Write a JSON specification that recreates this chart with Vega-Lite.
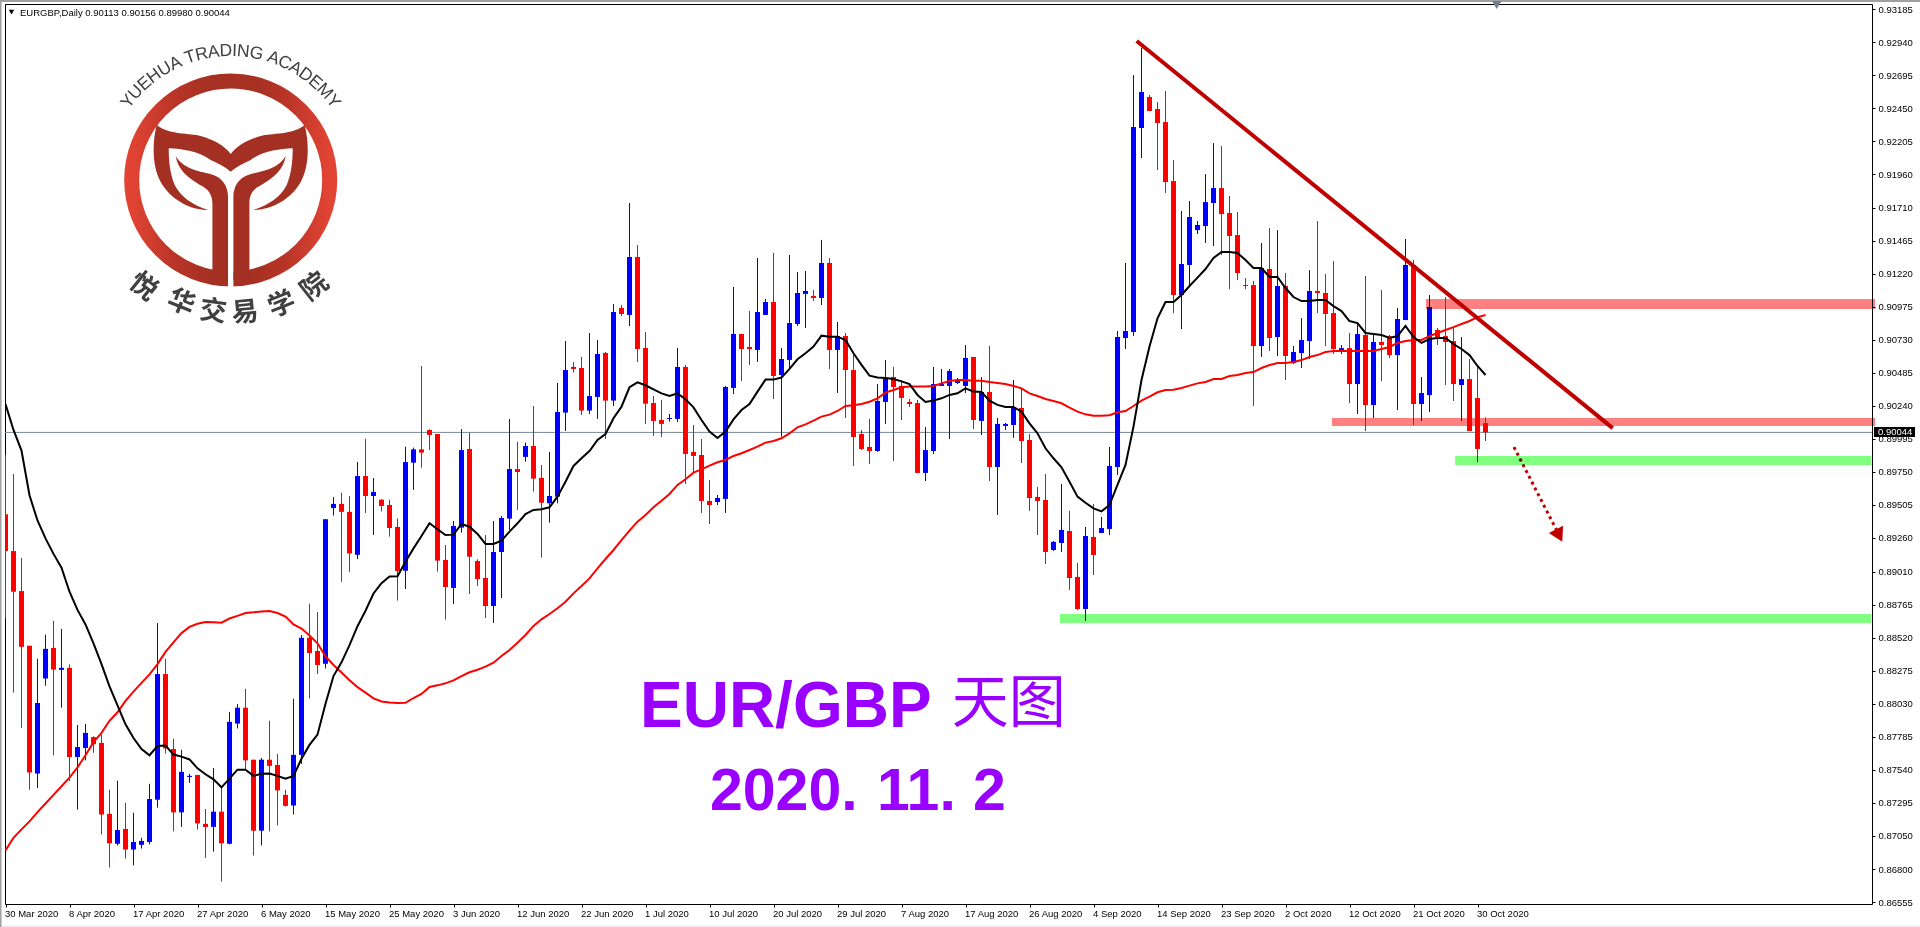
{
"$schema":"https://vega.github.io/schema/vega-lite/v6.json",
"width":1867,"height":900,
"autosize":{"type":"none"},
"padding":{"left":5,"top":4,"right":48,"bottom":23},
"background":"#ffffff",
"view":{"stroke":"#000000","strokeWidth":1,"fill":"#ffffff"},
"config":{"axis":{"grid":false,"title":null,"labelFont":"Liberation Sans","labelFontSize":9.5,"labelColor":"#000000","tickColor":"#000000","domain":false,"labelOverlap":false,"labelBound":false,"labelFlush":false}},
"data":{"values":[
{"i":0,"o":0.89436,"h":0.89876,"l":0.88664,"c":0.89163,"m1":0.90254,"m2":0.86941},
{"i":1,"o":0.89163,"h":0.89735,"l":0.88112,"c":0.88861,"m1":0.90062,"m2":0.87034},
{"i":2,"o":0.88866,"h":0.89112,"l":0.87851,"c":0.88452,"m1":0.89909,"m2":0.87097},
{"i":3,"o":0.8846,"h":0.8846,"l":0.87391,"c":0.87519,"m1":0.89577,"m2":0.87156},
{"i":4,"o":0.87511,"h":0.88363,"l":0.87404,"c":0.88035,"m1":0.8939,"m2":0.87225},
{"i":5,"o":0.88217,"h":0.88542,"l":0.88163,"c":0.88437,"m1":0.89257,"m2":0.87289},
{"i":6,"o":0.88444,"h":0.88644,"l":0.87647,"c":0.88283,"m1":0.89142,"m2":0.87353},
{"i":7,"o":0.88281,"h":0.88585,"l":0.88,"c":0.88296,"m1":0.8904,"m2":0.87417},
{"i":8,"o":0.88296,"h":0.88322,"l":0.87455,"c":0.87634,"m1":0.88861,"m2":0.87481},
{"i":9,"o":0.87634,"h":0.87872,"l":0.87243,"c":0.87708,"m1":0.88726,"m2":0.87557},
{"i":10,"o":0.87701,"h":0.8788,"l":0.87609,"c":0.87813,"m1":0.88618,"m2":0.87647},
{"i":11,"o":0.87782,"h":0.87788,"l":0.87665,"c":0.87729,"m1":0.88478,"m2":0.87744},
{"i":12,"o":0.87739,"h":0.878,"l":0.87059,"c":0.87207,"m1":0.88324,"m2":0.87813},
{"i":13,"o":0.87212,"h":0.87391,"l":0.86814,"c":0.86993,"m1":0.88158,"m2":0.87903},
{"i":14,"o":0.8699,"h":0.87458,"l":0.86977,"c":0.87092,"m1":0.88018,"m2":0.87966},
{"i":15,"o":0.871,"h":0.87294,"l":0.8688,"c":0.86947,"m1":0.87877,"m2":0.88051},
{"i":16,"o":0.86947,"h":0.8722,"l":0.86829,"c":0.87003,"m1":0.87775,"m2":0.8812},
{"i":17,"o":0.86982,"h":0.87034,"l":0.86954,"c":0.87011,"m1":0.87693,"m2":0.88184},
{"i":18,"o":0.87003,"h":0.87435,"l":0.86985,"c":0.87322,"m1":0.87647,"m2":0.88248},
{"i":19,"o":0.87317,"h":0.88628,"l":0.87258,"c":0.8825,"m1":0.87716,"m2":0.88324},
{"i":20,"o":0.8825,"h":0.88363,"l":0.8766,"c":0.87698,"m1":0.87719,"m2":0.88414},
{"i":21,"o":0.87693,"h":0.8777,"l":0.87082,"c":0.87223,"m1":0.87652,"m2":0.88485},
{"i":22,"o":0.87223,"h":0.87688,"l":0.87115,"c":0.87524,"m1":0.87637,"m2":0.88554},
{"i":23,"o":0.87486,"h":0.87509,"l":0.87442,"c":0.87494,"m1":0.87616,"m2":0.886},
{"i":24,"o":0.87501,"h":0.87501,"l":0.87095,"c":0.87141,"m1":0.8755,"m2":0.88623},
{"i":25,"o":0.87138,"h":0.87248,"l":0.86885,"c":0.87115,"m1":0.87506,"m2":0.88636},
{"i":26,"o":0.87115,"h":0.87552,"l":0.86931,"c":0.87228,"m1":0.87468,"m2":0.88634},
{"i":27,"o":0.87228,"h":0.87412,"l":0.86709,"c":0.86993,"m1":0.87409,"m2":0.88631},
{"i":28,"o":0.8699,"h":0.87969,"l":0.86985,"c":0.87895,"m1":0.87473,"m2":0.88662},
{"i":29,"o":0.87882,"h":0.88028,"l":0.87846,"c":0.88,"m1":0.8754,"m2":0.88682},
{"i":30,"o":0.88,"h":0.8814,"l":0.87545,"c":0.87609,"m1":0.8754,"m2":0.88703},
{"i":31,"o":0.87614,"h":0.87614,"l":0.86903,"c":0.87087,"m1":0.87494,"m2":0.88708},
{"i":32,"o":0.87087,"h":0.87627,"l":0.86977,"c":0.87614,"m1":0.87509,"m2":0.88715},
{"i":33,"o":0.87614,"h":0.87903,"l":0.87082,"c":0.87568,"m1":0.87512,"m2":0.88718},
{"i":34,"o":0.87575,"h":0.87657,"l":0.87126,"c":0.87386,"m1":0.87494,"m2":0.88703},
{"i":35,"o":0.87353,"h":0.87391,"l":0.87266,"c":0.87271,"m1":0.87473,"m2":0.88677},
{"i":36,"o":0.87274,"h":0.88066,"l":0.87207,"c":0.8765,"m1":0.87494,"m2":0.88618},
{"i":37,"o":0.8765,"h":0.88539,"l":0.87583,"c":0.88519,"m1":0.87621,"m2":0.88588},
{"i":38,"o":0.88519,"h":0.88772,"l":0.88069,"c":0.88406,"m1":0.87724,"m2":0.88536},
{"i":39,"o":0.88421,"h":0.8871,"l":0.8825,"c":0.88317,"m1":0.878,"m2":0.88478},
{"i":40,"o":0.88327,"h":0.894,"l":0.88291,"c":0.894,"m1":0.8803,"m2":0.88381},
{"i":41,"o":0.89482,"h":0.89564,"l":0.89426,"c":0.89513,"m1":0.88235,"m2":0.88317},
{"i":42,"o":0.89513,"h":0.89595,"l":0.88935,"c":0.89454,"m1":0.88337,"m2":0.88261},
{"i":43,"o":0.89454,"h":0.89572,"l":0.89009,"c":0.89145,"m1":0.88465,"m2":0.88204},
{"i":44,"o":0.89135,"h":0.89825,"l":0.89104,"c":0.8972,"m1":0.88605,"m2":0.88153},
{"i":45,"o":0.8972,"h":0.89996,"l":0.89446,"c":0.89572,"m1":0.8872,"m2":0.88112},
{"i":46,"o":0.89572,"h":0.89705,"l":0.89283,"c":0.89602,"m1":0.88848,"m2":0.88069},
{"i":47,"o":0.89544,"h":0.89549,"l":0.89457,"c":0.89498,"m1":0.88925,"m2":0.88046},
{"i":48,"o":0.89505,"h":0.89544,"l":0.8927,"c":0.89334,"m1":0.88974,"m2":0.88038},
{"i":49,"o":0.89342,"h":0.89405,"l":0.88795,"c":0.89014,"m1":0.88976,"m2":0.88035},
{"i":50,"o":0.89017,"h":0.89938,"l":0.88881,"c":0.89824,"m1":0.89084,"m2":0.88036},
{"i":51,"o":0.89819,"h":0.89931,"l":0.89617,"c":0.89918,"m1":0.89183,"m2":0.88072},
{"i":52,"o":0.89918,"h":0.90537,"l":0.89782,"c":0.89894,"m1":0.89275,"m2":0.88102},
{"i":53,"o":0.90062,"h":0.90067,"l":0.89913,"c":0.90025,"m1":0.89369,"m2":0.88154},
{"i":54,"o":0.90032,"h":0.90032,"l":0.8901,"c":0.89092,"m1":0.89325,"m2":0.88166},
{"i":55,"o":0.89097,"h":0.89208,"l":0.88654,"c":0.88896,"m1":0.89282,"m2":0.88181},
{"i":56,"o":0.88889,"h":0.89386,"l":0.8877,"c":0.89349,"m1":0.89285,"m2":0.88203},
{"i":57,"o":0.89337,"h":0.90069,"l":0.893,"c":0.89913,"m1":0.89364,"m2":0.88235},
{"i":58,"o":0.89921,"h":0.90042,"l":0.88844,"c":0.89121,"m1":0.89344,"m2":0.88263},
{"i":59,"o":0.89089,"h":0.89102,"l":0.88904,"c":0.88955,"m1":0.8929,"m2":0.88282},
{"i":60,"o":0.88963,"h":0.89282,"l":0.88666,"c":0.88755,"m1":0.89216,"m2":0.88305},
{"i":61,"o":0.88755,"h":0.89386,"l":0.88629,"c":0.89156,"m1":0.89216,"m2":0.88334},
{"i":62,"o":0.89156,"h":0.89423,"l":0.88814,"c":0.89408,"m1":0.8924,"m2":0.88384},
{"i":63,"o":0.89404,"h":0.90144,"l":0.8932,"c":0.89772,"m1":0.89307,"m2":0.88428},
{"i":64,"o":0.89772,"h":0.89975,"l":0.89468,"c":0.8975,"m1":0.89369,"m2":0.88483},
{"i":65,"o":0.89862,"h":0.89968,"l":0.89827,"c":0.89943,"m1":0.89438,"m2":0.8854},
{"i":66,"o":0.89943,"h":0.9024,"l":0.89604,"c":0.89701,"m1":0.89468,"m2":0.88607},
{"i":67,"o":0.89706,"h":0.89802,"l":0.89114,"c":0.89522,"m1":0.89473,"m2":0.88656},
{"i":68,"o":0.89518,"h":0.89899,"l":0.89374,"c":0.89572,"m1":0.89488,"m2":0.88696},
{"i":69,"o":0.89567,"h":0.90411,"l":0.89518,"c":0.90196,"m1":0.89567,"m2":0.88738},
{"i":70,"o":0.90191,"h":0.90723,"l":0.90055,"c":0.90507,"m1":0.89678,"m2":0.88787},
{"i":71,"o":0.9053,"h":0.90567,"l":0.90488,"c":0.90515,"m1":0.89795,"m2":0.88849},
{"i":72,"o":0.90522,"h":0.90604,"l":0.90173,"c":0.90206,"m1":0.89852,"m2":0.88904},
{"i":73,"o":0.90206,"h":0.90782,"l":0.90181,"c":0.90314,"m1":0.89906,"m2":0.8896},
{"i":74,"o":0.90307,"h":0.9073,"l":0.90144,"c":0.90626,"m1":0.89988,"m2":0.89035},
{"i":75,"o":0.90634,"h":0.90641,"l":0.89995,"c":0.9028,"m1":0.90032,"m2":0.89104},
{"i":76,"o":0.9028,"h":0.90997,"l":0.9024,"c":0.90938,"m1":0.90149,"m2":0.89171},
{"i":77,"o":0.90968,"h":0.9099,"l":0.90908,"c":0.90923,"m1":0.90235,"m2":0.89245},
{"i":78,"o":0.90916,"h":0.91747,"l":0.90834,"c":0.91346,"m1":0.90379,"m2":0.89314},
{"i":79,"o":0.91346,"h":0.91435,"l":0.90567,"c":0.90663,"m1":0.90416,"m2":0.89381},
{"i":80,"o":0.90671,"h":0.9079,"l":0.90107,"c":0.90257,"m1":0.90394,"m2":0.89431},
{"i":81,"o":0.90262,"h":0.90314,"l":0.90017,"c":0.90129,"m1":0.90364,"m2":0.89488},
{"i":82,"o":0.90136,"h":0.90285,"l":0.9001,"c":0.90107,"m1":0.90334,"m2":0.89537},
{"i":83,"o":0.90144,"h":0.90181,"l":0.90124,"c":0.90151,"m1":0.90314,"m2":0.89587},
{"i":84,"o":0.90144,"h":0.90671,"l":0.90121,"c":0.9053,"m1":0.90334,"m2":0.89654},
{"i":85,"o":0.9053,"h":0.90545,"l":0.89661,"c":0.89884,"m1":0.9029,"m2":0.89696},
{"i":86,"o":0.89899,"h":0.90099,"l":0.89745,"c":0.89869,"m1":0.9023,"m2":0.89745},
{"i":87,"o":0.89876,"h":0.89995,"l":0.89446,"c":0.89535,"m1":0.90136,"m2":0.8977},
{"i":88,"o":0.89535,"h":0.89691,"l":0.89364,"c":0.89505,"m1":0.9005,"m2":0.89797},
{"i":89,"o":0.89527,"h":0.89579,"l":0.89505,"c":0.89557,"m1":0.90003,"m2":0.89822},
{"i":90,"o":0.8955,"h":0.90389,"l":0.89446,"c":0.90381,"m1":0.9005,"m2":0.89839},
{"i":91,"o":0.90374,"h":0.91124,"l":0.90329,"c":0.90775,"m1":0.90141,"m2":0.89869},
{"i":92,"o":0.90775,"h":0.90775,"l":0.90426,"c":0.90663,"m1":0.9021,"m2":0.89889},
{"i":93,"o":0.90678,"h":0.90945,"l":0.90545,"c":0.90663,"m1":0.90255,"m2":0.89913},
{"i":94,"o":0.90656,"h":0.91339,"l":0.90567,"c":0.90938,"m1":0.90347,"m2":0.89938},
{"i":95,"o":0.90916,"h":0.91035,"l":0.90916,"c":0.91012,"m1":0.90436,"m2":0.89968},
{"i":96,"o":0.91012,"h":0.91376,"l":0.90292,"c":0.90463,"m1":0.90436,"m2":0.8998},
{"i":97,"o":0.9047,"h":0.90671,"l":0.90012,"c":0.90589,"m1":0.90451,"m2":0.9},
{"i":98,"o":0.90582,"h":0.91361,"l":0.90507,"c":0.90856,"m1":0.90515,"m2":0.90037},
{"i":99,"o":0.90849,"h":0.91235,"l":0.90834,"c":0.91079,"m1":0.90587,"m2":0.90082},
{"i":100,"o":0.91072,"h":0.91242,"l":0.90819,"c":0.91094,"m1":0.90631,"m2":0.90104},
{"i":101,"o":0.91057,"h":0.91101,"l":0.9102,"c":0.91042,"m1":0.90681,"m2":0.90131},
{"i":102,"o":0.91042,"h":0.91473,"l":0.9099,"c":0.91302,"m1":0.90762,"m2":0.90161},
{"i":103,"o":0.91302,"h":0.91339,"l":0.90515,"c":0.90656,"m1":0.90755,"m2":0.90176},
{"i":104,"o":0.90656,"h":0.90864,"l":0.90337,"c":0.9076,"m1":0.90755,"m2":0.90203},
{"i":105,"o":0.9076,"h":0.90782,"l":0.90151,"c":0.90507,"m1":0.9073,"m2":0.9024},
{"i":106,"o":0.90507,"h":0.90619,"l":0.89795,"c":0.9001,"m1":0.90631,"m2":0.90245},
{"i":107,"o":0.90032,"h":0.90062,"l":0.89913,"c":0.89921,"m1":0.90545,"m2":0.90255},
{"i":108,"o":0.89936,"h":0.90144,"l":0.8981,"c":0.89906,"m1":0.90465,"m2":0.90272},
{"i":109,"o":0.89906,"h":0.90403,"l":0.89899,"c":0.90277,"m1":0.90451,"m2":0.90297},
{"i":110,"o":0.9027,"h":0.90582,"l":0.90107,"c":0.90441,"m1":0.90448,"m2":0.90339},
{"i":111,"o":0.90455,"h":0.9053,"l":0.89832,"c":0.90381,"m1":0.90441,"m2":0.90359},
{"i":112,"o":0.90389,"h":0.90433,"l":0.90136,"c":0.903,"m1":0.90423,"m2":0.90379},
{"i":113,"o":0.9027,"h":0.90292,"l":0.90233,"c":0.90255,"m1":0.90403,"m2":0.90384},
{"i":114,"o":0.90262,"h":0.90285,"l":0.89743,"c":0.89743,"m1":0.90322,"m2":0.90384},
{"i":115,"o":0.89743,"h":0.90084,"l":0.89683,"c":0.89913,"m1":0.9027,"m2":0.90384},
{"i":116,"o":0.89906,"h":0.9053,"l":0.89884,"c":0.90403,"m1":0.9028,"m2":0.90389},
{"i":117,"o":0.90389,"h":0.90515,"l":0.90389,"c":0.90403,"m1":0.90297,"m2":0.90408},
{"i":118,"o":0.90389,"h":0.90515,"l":0.89995,"c":0.905,"m1":0.90322,"m2":0.90426},
{"i":119,"o":0.90411,"h":0.90448,"l":0.90403,"c":0.90426,"m1":0.90334,"m2":0.90433},
{"i":120,"o":0.90389,"h":0.90693,"l":0.90337,"c":0.90597,"m1":0.90371,"m2":0.90433},
{"i":121,"o":0.90604,"h":0.90604,"l":0.90069,"c":0.90136,"m1":0.90347,"m2":0.90428},
{"i":122,"o":0.90129,"h":0.90455,"l":0.90025,"c":0.90344,"m1":0.90344,"m2":0.90428},
{"i":123,"o":0.90344,"h":0.90686,"l":0.89683,"c":0.89787,"m1":0.9028,"m2":0.90418},
{"i":124,"o":0.89787,"h":0.90151,"l":0.89431,"c":0.90107,"m1":0.90248,"m2":0.90411},
{"i":125,"o":0.90092,"h":0.90114,"l":0.90062,"c":0.90107,"m1":0.90233,"m2":0.90403},
{"i":126,"o":0.90099,"h":0.90433,"l":0.90003,"c":0.90225,"m1":0.90233,"m2":0.90389},
{"i":127,"o":0.90225,"h":0.90366,"l":0.89817,"c":0.8998,"m1":0.90198,"m2":0.90371},
{"i":128,"o":0.89988,"h":0.90032,"l":0.89461,"c":0.89557,"m1":0.90111,"m2":0.90334},
{"i":129,"o":0.89565,"h":0.89639,"l":0.89282,"c":0.89535,"m1":0.90037,"m2":0.90314},
{"i":130,"o":0.89542,"h":0.89735,"l":0.89067,"c":0.89156,"m1":0.89926,"m2":0.90292},
{"i":131,"o":0.89171,"h":0.89238,"l":0.89164,"c":0.89231,"m1":0.89852,"m2":0.90277},
{"i":132,"o":0.89223,"h":0.89661,"l":0.89156,"c":0.8932,"m1":0.89785,"m2":0.9026},
{"i":133,"o":0.89312,"h":0.89461,"l":0.88874,"c":0.88963,"m1":0.89678,"m2":0.90228},
{"i":134,"o":0.88971,"h":0.89075,"l":0.88726,"c":0.88733,"m1":0.89567,"m2":0.90198},
{"i":135,"o":0.88733,"h":0.89342,"l":0.88644,"c":0.89275,"m1":0.89522,"m2":0.90178},
{"i":136,"o":0.89268,"h":0.89513,"l":0.88985,"c":0.89134,"m1":0.8948,"m2":0.90168},
{"i":137,"o":0.89297,"h":0.89416,"l":0.89297,"c":0.89334,"m1":0.89458,"m2":0.90168},
{"i":138,"o":0.89327,"h":0.89936,"l":0.89282,"c":0.89795,"m1":0.89505,"m2":0.90171},
{"i":139,"o":0.89787,"h":0.90797,"l":0.89728,"c":0.90752,"m1":0.89654,"m2":0.90193},
{"i":140,"o":0.90745,"h":0.91302,"l":0.90663,"c":0.90797,"m1":0.89802,"m2":0.90203},
{"i":141,"o":0.90789,"h":0.92697,"l":0.90759,"c":0.92311,"m1":0.90087,"m2":0.9024},
{"i":142,"o":0.92304,"h":0.92898,"l":0.92081,"c":0.92571,"m1":0.90433,"m2":0.9028},
{"i":143,"o":0.92534,"h":0.92549,"l":0.9243,"c":0.9243,"m1":0.90681,"m2":0.90309},
{"i":144,"o":0.92445,"h":0.92497,"l":0.91992,"c":0.92341,"m1":0.90891,"m2":0.90342},
{"i":145,"o":0.92348,"h":0.92578,"l":0.91821,"c":0.91903,"m1":0.91012,"m2":0.90359},
{"i":146,"o":0.9191,"h":0.92066,"l":0.9093,"c":0.91064,"m1":0.91012,"m2":0.90361},
{"i":147,"o":0.91064,"h":0.91688,"l":0.90811,"c":0.91294,"m1":0.91064,"m2":0.90374},
{"i":148,"o":0.91287,"h":0.91762,"l":0.91131,"c":0.91643,"m1":0.91131,"m2":0.90391},
{"i":149,"o":0.91546,"h":0.91613,"l":0.91517,"c":0.91584,"m1":0.91193,"m2":0.90408},
{"i":150,"o":0.91576,"h":0.91962,"l":0.9145,"c":0.91754,"m1":0.91257,"m2":0.90418},
{"i":151,"o":0.91747,"h":0.92192,"l":0.91428,"c":0.91858,"m1":0.91339,"m2":0.9044},
{"i":152,"o":0.91858,"h":0.9217,"l":0.91361,"c":0.91665,"m1":0.91383,"m2":0.9044},
{"i":153,"o":0.91673,"h":0.91799,"l":0.91108,"c":0.91502,"m1":0.91383,"m2":0.90462},
{"i":154,"o":0.91509,"h":0.9168,"l":0.91175,"c":0.91227,"m1":0.91376,"m2":0.9047},
{"i":155,"o":0.91138,"h":0.9119,"l":0.91108,"c":0.91131,"m1":0.91324,"m2":0.90485},
{"i":156,"o":0.91138,"h":0.91168,"l":0.9024,"c":0.90685,"m1":0.91264,"m2":0.90492},
{"i":157,"o":0.90685,"h":0.9145,"l":0.90604,"c":0.91264,"m1":0.91264,"m2":0.90522},
{"i":158,"o":0.91257,"h":0.91561,"l":0.90648,"c":0.90745,"m1":0.91198,"m2":0.90544},
{"i":159,"o":0.90752,"h":0.91546,"l":0.90611,"c":0.91131,"m1":0.91198,"m2":0.90559},
{"i":160,"o":0.91131,"h":0.91227,"l":0.90433,"c":0.90611,"m1":0.91116,"m2":0.90559},
{"i":161,"o":0.90559,"h":0.90685,"l":0.90552,"c":0.90641,"m1":0.91049,"m2":0.90566},
{"i":162,"o":0.90633,"h":0.90893,"l":0.90522,"c":0.9073,"m1":0.91019,"m2":0.90581},
{"i":163,"o":0.90722,"h":0.91249,"l":0.90589,"c":0.91094,"m1":0.91019,"m2":0.90604},
{"i":164,"o":0.91094,"h":0.91613,"l":0.9093,"c":0.91079,"m1":0.91027,"m2":0.90618},
{"i":165,"o":0.91079,"h":0.9122,"l":0.90685,"c":0.90923,"m1":0.91027,"m2":0.90641},
{"i":166,"o":0.9093,"h":0.91316,"l":0.90626,"c":0.90663,"m1":0.90982,"m2":0.90648},
{"i":167,"o":0.90656,"h":0.90693,"l":0.90626,"c":0.9067,"m1":0.90945,"m2":0.90648},
{"i":168,"o":0.9067,"h":0.90782,"l":0.90262,"c":0.90403,"m1":0.90871,"m2":0.90648},
{"i":169,"o":0.90403,"h":0.90849,"l":0.9018,"c":0.90774,"m1":0.90856,"m2":0.90648},
{"i":170,"o":0.90767,"h":0.91205,"l":0.90054,"c":0.90247,"m1":0.90782,"m2":0.90648},
{"i":171,"o":0.90247,"h":0.90782,"l":0.90151,"c":0.90715,"m1":0.90774,"m2":0.90648},
{"i":172,"o":0.90715,"h":0.91101,"l":0.90425,"c":0.90693,"m1":0.90767,"m2":0.90663},
{"i":173,"o":0.90759,"h":0.90767,"l":0.90596,"c":0.90618,"m1":0.90745,"m2":0.90678},
{"i":174,"o":0.90618,"h":0.90967,"l":0.9021,"c":0.90886,"m1":0.90759,"m2":0.90708},
{"i":175,"o":0.90878,"h":0.9148,"l":0.90878,"c":0.91287,"m1":0.90834,"m2":0.90722},
{"i":176,"o":0.91287,"h":0.91324,"l":0.90099,"c":0.90255,"m1":0.90752,"m2":0.9073},
{"i":177,"o":0.90255,"h":0.90455,"l":0.90128,"c":0.90336,"m1":0.90708,"m2":0.9073},
{"i":178,"o":0.90321,"h":0.91064,"l":0.90195,"c":0.90975,"m1":0.90737,"m2":0.90759},
{"i":179,"o":0.90804,"h":0.90819,"l":0.90693,"c":0.90752,"m1":0.90745,"m2":0.90782},
{"i":180,"o":0.90759,"h":0.91049,"l":0.90396,"c":0.90715,"m1":0.90745,"m2":0.90804},
{"i":181,"o":0.90722,"h":0.90826,"l":0.90277,"c":0.90403,"m1":0.907,"m2":0.90826},
{"i":182,"o":0.90396,"h":0.90752,"l":0.90128,"c":0.9044,"m1":0.90663,"m2":0.90849},
{"i":183,"o":0.9044,"h":0.90589,"l":0.90054,"c":0.90054,"m1":0.90618,"m2":0.90871},
{"i":184,"o":0.90299,"h":0.90544,"l":0.89824,"c":0.89921,"m1":0.90537,"m2":0.909},
{"i":185,"o":0.90113,"h":0.90156,"l":0.8998,"c":0.90044,"m1":0.9047,"m2":0.90915}
]},
"encoding":{
"x":{"field":"i","type":"quantitative","scale":{"domain":[-0.0625,233.3125],"nice":false,"zero":false,"padding":0},
"axis":{"orient":"bottom","values":[0,8,16,24,32,40,48,56,64,72,80,88,96,104,112,120,128,136,144,152,160,168,176,184],"tickSize":3,"labelAlign":"left","labelBaseline":"top","labelPadding":1,"labelOffset":-1,
"labelExpr":"['30 Mar 2020','8 Apr 2020','17 Apr 2020','27 Apr 2020','6 May 2020','15 May 2020','25 May 2020','3 Jun 2020','12 Jun 2020','22 Jun 2020','1 Jul 2020','10 Jul 2020','20 Jul 2020','29 Jul 2020','7 Aug 2020','17 Aug 2020','26 Aug 2020','4 Sep 2020','14 Sep 2020','23 Sep 2020','2 Oct 2020','12 Oct 2020','21 Oct 2020','30 Oct 2020'][round(datum.value/8)]"}},
"y":{"field":"p","type":"quantitative","scale":{"domain":[0.865427,0.932245],"nice":false,"zero":false,"padding":0},
"axis":{"orient":"right","values":[0.86555,0.868,0.8705,0.87295,0.8754,0.87785,0.8803,0.88275,0.8852,0.88765,0.8901,0.8926,0.89505,0.8975,0.89995,0.9024,0.90485,0.9073,0.90975,0.9122,0.91465,0.9171,0.9196,0.92205,0.9245,0.92695,0.9294,0.93185],"format":".5f","tickSize":3,"labelPadding":3}}
},
"layer":[
{"data":{"values":[{"i":-0.59,"p":0.9332,"p2":0.8615}]},"mark":{"type":"rule","color":"#a0a0a0","strokeWidth":1.5,"clip":false},"encoding":{"y2":{"field":"p2"}}},
{"data":{"values":[{"i":-1,"i2":240,"p":0.93247}]},"mark":{"type":"rule","color":"#a0a0a0","strokeWidth":2,"clip":false},"encoding":{"x2":{"field":"i2"}}},
{"data":{"values":[{"i":-0.4,"i2":240,"p":0.86379}]},"mark":{"type":"rule","color":"#f0f0f0","strokeWidth":2,"clip":false},"encoding":{"x2":{"field":"i2"}}},
{"data":{"values":[{"p":0.90044}]},"mark":{"type":"rule","color":"#778899","strokeWidth":1},"encoding":{"x":{"value":0},"x2":{"value":1867}}},
{"mark":{"type":"rule","strokeWidth":1,"clip":true},"encoding":{"y":{"field":"h"},"y2":{"field":"l"},"color":{"condition":{"test":"datum.c>=datum.o","value":"#0000ff"},"value":"#ff0000"}}},
{"mark":{"type":"bar","size":5,"clip":true},"encoding":{"y":{"field":"o"},"y2":{"field":"c"},"color":{"condition":{"test":"datum.c>=datum.o","value":"#0000ff"},"value":"#ff0000"}}},
{"mark":{"type":"line","color":"#ff0000","strokeWidth":2,"clip":true},"encoding":{"y":{"field":"m2"}}},
{"mark":{"type":"line","color":"#000000","strokeWidth":2,"clip":true},"encoding":{"y":{"field":"m1"}}},
{"data":{"values":[{"i":141.4,"p":0.9295},{"i":200.9,"p":0.90076}]},"mark":{"type":"line","color":"#c00000","strokeWidth":4}},
{"data":{"values":[{"i":188.56,"p":0.89935},{"i":194.2,"p":0.89282}]},"mark":{"type":"line","color":"#c00000","strokeWidth":3,"strokeDash":[3,3.5]}},
{"data":{"values":[{"i":194.2,"p":0.89278}]},"mark":{"type":"point","shape":"triangle-up","filled":true,"size":256,"angle":153,"color":"#c00000","opacity":1}},
{"data":{"values":[
{"i":177.56,"i2":233.7,"p":0.91034,"p2":0.9096,"z":"#ff8080"},
{"i":165.8,"i2":233.7,"p":0.90151,"p2":0.90091,"z":"#ff8080"},
{"i":181.2,"i2":233.2,"p":0.89869,"p2":0.89802,"z":"#80ff80"},
{"i":131.8,"i2":233.2,"p":0.88696,"p2":0.88629,"z":"#80ff80"}
]},"mark":{"type":"rect","blend":"multiply","opacity":1},"encoding":{"x2":{"field":"i2"},"y2":{"field":"p2"},"color":{"field":"z","type":"nominal","scale":null,"legend":null}}},
{"data":{"values":[{"i":233.56,"i2":238.69,"p":0.90084,"p2":0.9001}]},"mark":{"type":"rect","color":"#000000","opacity":1},"encoding":{"x2":{"field":"i2"},"y2":{"field":"p2"}}},
{"data":{"values":[{"i":234.06,"p":0.90044,"t":"0.90044"}]},"mark":{"type":"text","align":"left","baseline":"middle","font":"Liberation Sans","fontSize":9.5,"color":"#ffffff"},"encoding":{"text":{"field":"t"}}},
{"data":{"values":[{"i":186.4,"p":0.93217}]},"mark":{"type":"point","shape":"triangle-down","filled":true,"size":90,"color":"#708090","opacity":1}},
{"data":{"values":[{"i":0.75,"p":0.93165}]},"mark":{"type":"point","shape":"triangle-down","filled":true,"size":30,"color":"#000000","opacity":1}},
{"data":{"values":[{"i":1.81,"p":0.93161,"t":"EURGBP,Daily  0.90113 0.90156 0.89980 0.90044"}]},"mark":{"type":"text","align":"left","baseline":"middle","font":"Liberation Sans","fontSize":9.5,"color":"#000000"},"encoding":{"text":{"field":"t"}}},
{"data":{"values":[{"i":79.31,"p":0.87857,"t":"EUR/GBP"}]},"mark":{"type":"text","align":"left","baseline":"alphabetic","font":"Liberation Sans","fontWeight":"bold","fontSize":64,"color":"#9900ff"},"encoding":{"text":{"field":"t"}}},
{"data":{"values":[{"i":125.4,"p":0.8802,"t":"天图"}]},"mark":{"type":"text","align":"center","baseline":"middle","font":"Noto Sans CJK SC","fontSize":57,"color":"#9900ff"},"encoding":{"text":{"field":"t"}}},
{"data":{"values":[{"i":88.06,"p":0.8724,"t":"2020."},{"i":108.94,"p":0.8724,"t":"11."},{"i":120.94,"p":0.8724,"t":"2"}]},"mark":{"type":"text","align":"left","baseline":"alphabetic","font":"Liberation Sans","fontWeight":"bold","fontSize":59,"color":"#9900ff"},"encoding":{"text":{"field":"t"}}},
{"data":{"values":[{"i":28.15,"p":0.91918}]},"mark":{"type":"point","shape":"circle","filled":false,"size":39204,"strokeWidth":15,"opacity":1,"stroke":{"gradient":"linear","x1":0,"x2":1,"y1":0,"y2":0,"stops":[{"offset":0,"color":"#e24434"},{"offset":0.22,"color":"#b83527"},{"offset":0.38,"color":"#a63022"},{"offset":0.62,"color":"#a63022"},{"offset":0.78,"color":"#b83527"},{"offset":1,"color":"#e24434"}]}}},
{"data":{"values":[{"i":28.15,"p":0.91918}]},"mark":{"type":"point","filled":true,"size":40000,"opacity":1,"color":"#ffffff","shape":"M-.027,.85 L.027,.85 L.027,1.1 L-.027,1.1 Z"}},
{"data":{"values":[{"i":28.15,"p":0.91918}]},"mark":{"type":"point","filled":true,"size":40000,"opacity":1,"color":"#a33022","shape":"M-.74,-.55 C-.62,-.45 -.40,-.47 -.30,-.44 C-.16,-.40 -.06,-.34 0,-.26 C.06,-.34 .16,-.40 .30,-.44 C.40,-.47 .62,-.45 .74,-.55 C.79,-.35 .78,-.12 .70,.02 C.60,.2 .40,.3 .227,.3 C.38,.25 .50,.17 .56,.05 C.61,-.07 .62,-.2 .62,-.317 C.48,-.31 .32,-.29 .20,-.2 C.12,-.16 .05,-.13 0,-.083 C-.05,-.13 -.12,-.16 -.2,-.2 C-.32,-.29 -.48,-.31 -.62,-.317 C-.62,-.2 -.61,-.07 -.56,.05 C-.50,.17 -.38,.25 -.227,.3 C-.40,.3 -.60,.2 -.70,.02 C-.78,-.12 -.79,-.35 -.74,-.55 Z M-.55,-.24 C-.53,-.10 -.42,-.02 -.307,.05 C-.22,.09 -.183,.15 -.183,.233 L-.183,1.03 L-.073,1.057 C-.04,1.04 -.027,1.01 -.027,.96 L-.027,.167 C-.027,.07 -.08,-.02 -.173,-.05 C-.3,-.09 -.47,-.10 -.55,-.24 Z M.55,-.24 C.53,-.10 .42,-.02 .307,.05 C.22,.09 .187,.15 .187,.233 L.187,1.03 L.073,1.057 C.04,1.04 .027,1.01 .027,.96 L.027,.167 C.027,.07 .08,-.02 .173,-.05 C.3,-.09 .47,-.10 .55,-.24 Z"}},
{"data":{"values":[
{"i":15.35,"p":0.925,"t":"Y","a":-52.6},{"i":16.31,"p":0.92568,"t":"U","a":-47.2},{"i":17.4,"p":0.92631,"t":"E","a":-41.8},{"i":18.59,"p":0.92688,"t":"H","a":-36.4},{"i":19.91,"p":0.92741,"t":"U","a":-30.7},{"i":21.26,"p":0.92783,"t":"A","a":-25.3},{"i":23.11,"p":0.92828,"t":"T","a":-18.2},{"i":24.53,"p":0.9285,"t":"R","a":-13},{"i":26.03,"p":0.92866,"t":"A","a":-7.6},{"i":27.54,"p":0.92875,"t":"D","a":-2.2},{"i":28.64,"p":0.92875,"t":"I","a":1.7},{"i":29.73,"p":0.92871,"t":"N","a":5.6},{"i":31.36,"p":0.92856,"t":"G","a":11.5},{"i":33.48,"p":0.92822,"t":"A","a":19.3},{"i":34.89,"p":0.92787,"t":"C","a":24.7},{"i":36.24,"p":0.92746,"t":"A","a":30.1},{"i":37.51,"p":0.92697,"t":"D","a":35.5},{"i":38.71,"p":0.92642,"t":"E","a":40.9},{"i":39.89,"p":0.92575,"t":"M","a":46.7},{"i":40.95,"p":0.925,"t":"Y","a":52.6}
]},"mark":{"type":"text","align":"center","baseline":"middle","font":"Liberation Sans","fontSize":17.5,"color":"#404040"},"encoding":{"text":{"field":"t"},"angle":{"field":"a","type":"quantitative","scale":null}}},
{"data":{"values":[
{"i":17.19,"p":0.91123,"t":"悦","a":39},{"i":21.94,"p":0.91004,"t":"华","a":22},{"i":25.94,"p":0.90938,"t":"交","a":8},{"i":29.94,"p":0.9093,"t":"易","a":-6},{"i":34.56,"p":0.9099,"t":"学","a":-22},{"i":38.69,"p":0.91123,"t":"院","a":-38}
]},"mark":{"type":"text","align":"center","baseline":"middle","font":"Noto Sans CJK SC","fontWeight":"bold","fontSize":27,"color":"#404040"},"encoding":{"text":{"field":"t"},"angle":{"field":"a","type":"quantitative","scale":null}}}
]
}
